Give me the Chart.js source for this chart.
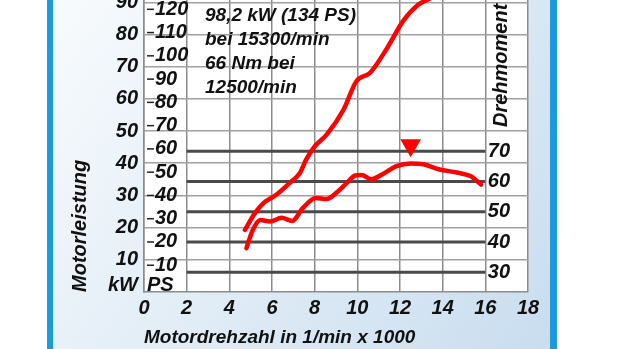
<!DOCTYPE html>
<html>
<head>
<meta charset="utf-8">
<script src="https://cdn.jsdelivr.net/npm/chart.js@4.4.1/dist/chart.umd.min.js"></script>
<style>
  html, body { margin: 0; padding: 0; background: #fff; }
  canvas { display: block; }
</style>
</head>
<body>
<canvas id="chart" width="620" height="349"></canvas>
<script>
// Leistungskurve (kW) über Drehzahl (1/min x 1000)
const powerRpm = [4.73, 5.2, 5.6, 6.2, 6.9, 7.3, 7.6, 8.0, 8.55, 9.35, 9.95, 10.6, 11.4, 12.15, 12.85, 13.5, 14.4, 15.3, 15.8];
const powerKw  = [19.3, 24.5, 27.6, 30.2, 34.3, 36.9, 41.1, 45.2, 48.8, 56.6, 65.4, 68.1, 75.8, 84.2, 89.2, 91.5, 95.5, 98.2, 97.5];

// Drehmomentkurve (Nm)
const torqueRpm = [4.8, 5.1, 5.45, 5.9, 6.45, 6.95, 7.45, 8.05, 8.55, 9.1, 9.5, 9.9, 10.2, 10.65, 11.2, 11.8, 12.5, 13.1, 13.85, 14.65, 15.3, 15.8];
const torqueNm  = [38, 44, 47.3, 46.8, 48, 47, 51.3, 54.6, 54.2, 56.8, 59.5, 62, 62.2, 60.8, 62.5, 65, 66, 65.7, 64, 63, 61.8, 59];

// Achsbeschriftungen
const rpmTicks = [0, 2, 4, 6, 8, 10, 12, 14, 16, 18];
const kwTicks = [10, 20, 30, 40, 50, 60, 70, 80, 90];
const psTicks = [10, 20, 30, 40, 50, 60, 70, 80, 90, 100, 110, 120];
const nmTicks = [30, 40, 50, 60, 70];

const infoText = ['98,2 kW (134 PS)', 'bei 15300/min', '66 Nm bei', '12500/min'];

const FONT = "'Liberation Sans', Arial, sans-serif";
const font = (size) => ({ family: FONT, size: size, style: 'italic', weight: 'bold', lineHeight: 1 });

// Markierung über dem Drehmoment-Maximum
const peakIdx = torqueNm.indexOf(Math.max(...torqueNm));

const setTicks = (list) => (s) => { s.ticks = list.map(v => ({ value: v })); };
const noPad = (s) => { s.paddingTop = 0; s.paddingBottom = 0; s.paddingLeft = 0; s.paddingRight = 0; };

const decor = {
  id: 'decor',
  beforeDraw(chart) {
    const { ctx, width, height, chartArea: a } = chart;
    ctx.save();
    ctx.fillStyle = '#fff';
    ctx.fillRect(0, 0, width, height);
    const g = ctx.createLinearGradient(53, 0, 550, height);
    g.addColorStop(0, '#f8fbfd');
    g.addColorStop(1, '#c9ddef');
    ctx.fillStyle = g;
    ctx.fillRect(53, 0, 497, height);
    ctx.fillStyle = '#1a9be0';
    ctx.fillRect(47, 0, 6, height);
    ctx.fillRect(550, 0, 7, height);
    ctx.fillStyle = '#fff';
    ctx.fillRect(a.left, a.top, a.right - a.left, a.bottom - a.top);
    ctx.restore();
  },
  beforeDatasetsDraw(chart) {
    const { ctx, chartArea: a, scales } = chart;
    ctx.save();
    // kräftige Nm-Linien, nur zwischen 2 und 16
    ctx.strokeStyle = '#4a4a4a';
    ctx.lineWidth = 3;
    const x0 = scales.x.getPixelForValue(2), x1 = scales.x.getPixelForValue(16);
    nmTicks.forEach(v => {
      const y = scales.nm.getPixelForValue(v);
      ctx.beginPath(); ctx.moveTo(x0, y); ctx.lineTo(x1, y); ctx.stroke();
    });
    // Striche vor den PS-Werten
    ctx.strokeStyle = '#222';
    ctx.lineWidth = 1.5;
    psTicks.forEach(v => {
      const y = scales.ps.getPixelForValue(v);
      ctx.beginPath(); ctx.moveTo(a.left + 3, y); ctx.lineTo(a.left + 10, y); ctx.stroke();
    });
    ctx.fillStyle = '#111';
    ctx.font = 'italic bold 19px ' + FONT;
    ctx.textBaseline = 'middle';
    ctx.textAlign = 'left';
    infoText.forEach((t, i) => ctx.fillText(t, 205, 16 + i * 24));
    ctx.font = 'italic bold 20px ' + FONT;
    ctx.textBaseline = 'alphabetic';
    ctx.textAlign = 'right';
    ctx.fillText('kW', a.left - 6, a.bottom - 1);
    ctx.textAlign = 'left';
    ctx.fillText('PS', a.left + 3, a.bottom - 1);
    ctx.translate(501, 127);
    ctx.rotate(-Math.PI / 2);
    ctx.textBaseline = 'middle';
    ctx.fillText('Drehmoment in Nm', 0, 0);
    ctx.restore();
  }
};

new Chart(document.getElementById('chart'), {
  type: 'line',
  data: {
    datasets: [{
      label: 'Motorleistung',
      data: powerRpm.map((x, i) => ({ x: x, y: powerKw[i] })),
      yAxisID: 'kw',
      borderColor: '#ff0000',
      borderWidth: 4.5,
      borderCapStyle: 'round',
      pointRadius: 0,
      cubicInterpolationMode: 'monotone'
    }, {
      label: 'Drehmoment',
      data: torqueRpm.map((x, i) => ({ x: x, y: torqueNm[i] })),
      yAxisID: 'nm',
      borderColor: '#ff0000',
      borderWidth: 4.5,
      borderCapStyle: 'round',
      pointRadius: 0,
      cubicInterpolationMode: 'monotone'
    }, {
      label: 'Max. Drehmoment',
      data: [{ x: torqueRpm[peakIdx], y: torqueNm[peakIdx] + 6 }],
      yAxisID: 'nm',
      showLine: false,
      pointStyle: 'triangle',
      rotation: 180,
      pointRadius: 12,
      backgroundColor: '#ff0000',
      borderWidth: 0
    }]
  },
  options: {
    responsive: false,
    animation: false,
    devicePixelRatio: 1,
    events: [],
    layout: { autoPadding: false, padding: { left: 60, right: 92, top: 0, bottom: 0 } },
    plugins: { legend: { display: false }, tooltip: { enabled: false } },
    scales: {
      x: {
        type: 'linear', min: 0, max: 18,
        afterBuildTicks: setTicks(rpmTicks),
        afterFit: (s) => { noPad(s); s.height = 57; },
        grid: { color: '#8c8c8c', lineWidth: 1.5, drawTicks: false },
        border: { color: '#8c8c8c', width: 1.5 },
        ticks: { padding: 6, color: '#111', font: font(20), maxRotation: 0, autoSkip: false },
        title: { display: true, text: 'Motordrehzahl in 1/min x 1000', align: 'start', padding: { top: 0, bottom: 2 }, color: '#111', font: font(19) }
      },
      kw: {
        position: 'left', weight: 1, min: 0, max: 90.7,
        afterBuildTicks: setTicks(kwTicks),
        afterFit: (s) => { noPad(s); s.width = 84; },
        grid: { color: '#a0a0a0', lineWidth: 1.5, drawTicks: false },
        border: { color: '#8c8c8c', width: 1.5 },
        ticks: { padding: 6, color: '#111', font: font(20) },
        title: { display: true, text: 'Motorleistung', align: 'start', padding: { top: 10, bottom: 0 }, color: '#111', font: font(20) }
      },
      ps: {
        position: 'left', weight: 0, min: -1.5, max: 124,
        afterBuildTicks: setTicks(psTicks),
        afterFit: (s) => { noPad(s); s.width = 0; },
        grid: { display: false },
        border: { display: false },
        ticks: { mirror: true, padding: 11, color: '#111', font: font(20) }
      },
      nm: {
        position: 'right', min: 23.5, max: 120,
        afterBuildTicks: setTicks(nmTicks),
        afterFit: (s) => { noPad(s); s.width = 0; },
        grid: { display: false },
        border: { display: false },
        ticks: { mirror: true, padding: -18, color: '#111', font: font(20) }
      }
    }
  },
  plugins: [decor]
});
</script>
</body>
</html>
